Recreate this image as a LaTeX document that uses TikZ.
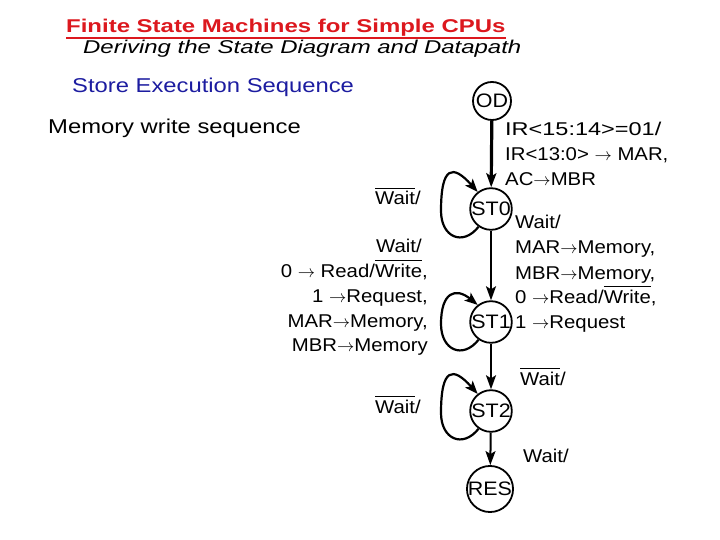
\documentclass[tikz,border=0pt]{standalone}
\usepackage{fontspec}
\setmainfont{Liberation Sans}[FakeStretch=1.1]
\newfontfamily\titlefont{Liberation Sans}[FakeStretch=1.295]
\newfontfamily\headfont{Liberation Sans}[FakeStretch=1.19]
\newfontfamily\widefont{Liberation Sans}[FakeStretch=1.27]
\usetikzlibrary{arrows.meta,calc}
\definecolor{titlered}{RGB}{220,24,30}
\definecolor{storeblue}{RGB}{28,28,160}
\newcommand{\ovl}[1]{\vbox{\hrule height 1.2pt \kern 2.2pt \hbox{#1}}}
\newcommand{\arr}{$\rightarrow$}
\begin{document}
\begin{tikzpicture}[x=1pt,y=1pt]
\tikzset{
 state/.style={circle,draw,line width=1.8pt,minimum size=38pt,inner sep=0pt,font=\fontsize{19.5}{19.5}\selectfont},
 lbl/.style={inner sep=0pt,font=\fontsize{18.5}{20}\selectfont},
 lw/.style={lbl,anchor=base west},
 le/.style={lbl,anchor=base east},
 trans/.style={line width=2pt,-{Stealth[length=14pt,width=10pt,inset=3pt]}},
 selfloop/.style={line width=2.2pt,-{Stealth[length=13pt,width=10pt,inset=3pt]}},
}
\useasboundingbox (0,0) rectangle (720,-540);
% headings
\node[anchor=base west,inner sep=0pt,text=titlered,font=\titlefont\bfseries\fontsize{18.5}{20}\selectfont] (title) at (66,-33) {Finite State Machines for Simple CPUs};
\draw[titlered,line width=2pt] ([yshift=-5pt]title.base west) -- ([yshift=-5pt]title.base east);
\node[anchor=base west,inner sep=0pt,font=\titlefont\itshape\fontsize{18.5}{20}\selectfont] (sub) at (83,-54) {Deriving the State Diagram and Datapath};
\node[anchor=base west,inner sep=0pt,text=storeblue,font=\headfont\fontsize{20}{22}\selectfont] (store) at (72,-93) {Store Execution Sequence};
\node[anchor=base west,inner sep=0pt,font=\headfont\fontsize{20}{22}\selectfont] (mws) at (48,-134) {Memory write sequence};
% states
\node[state] (od) at (492,-101) {OD};
\node[state] (st0) at (491,-209) {ST0};
\node[state] (st1) at (491,-322) {ST1};
\node[state] (st2) at (491,-411) {ST2};
\node[state] (res) at (490,-489) {RES};
% transitions
\draw[trans,line width=3.2pt] (od) -- (st0);
\draw[trans] (st0) -- (st1);
\draw[trans] (st1) -- (st2);
\draw[trans] (st2) -- (res);
% self loops
\draw[selfloop] (st0.235) .. controls +(-16,-20) and +(0,-26) .. ($(st0)+(-50,-2)$) .. controls +(0,45) and +(-25,28) .. (st0.128);
\draw[selfloop] (st1.235) .. controls +(-16,-20) and +(0,-26) .. ($(st1)+(-50,-2)$) .. controls +(0,32) and +(-22,18) .. (st1.128);
\draw[selfloop] (st2.235) .. controls +(-16,-20) and +(0,-26) .. ($(st2)+(-50,-2)$) .. controls +(0,45) and +(-25,28) .. (st2.128);
% labels OD->ST0
\node[lw,font=\widefont\fontsize{18.5}{20}\selectfont] (a1) at (505,-136) {IR<15:14>=01/};
\node[lw] (a2) at (505,-161) {IR<13:0> \arr\ MAR,};
\node[lw] (a3) at (505,-186) {AC\arr MBR};
% ST0 self loop
\node[le] (b1) at (421,-205) {\ovl{Wait}/};
% ST0->ST1
\node[lw] (c1) at (515,-229) {Wait/};
\node[lw] (c2) at (515,-254) {MAR\arr Memory,};
\node[lw] (c3) at (515,-279) {MBR\arr Memory,};
\node[lw] (c4) at (515,-303) {0 \arr Read/\ovl{Write},};
\node[lw] (c5) at (515,-328) {1 \arr Request};
% ST1 self loop
\node[le] (d1) at (422,-252) {Wait/};
\node[le] (d2) at (428,-277) {0 \arr\ Read/\ovl{Write},};
\node[le] (d3) at (428,-302) {1 \arr Request,};
\node[le] (d4) at (428,-327) {MAR\arr Memory,};
\node[le] (d5) at (428,-351) {MBR\arr Memory};
% ST1->ST2
\node[lw] (e1) at (520,-385) {\ovl{Wait}/};
% ST2 self loop
\node[le] (f1) at (421,-413) {\ovl{Wait}/};
% ST2->RES
\node[lw] (g1) at (523,-462) {Wait/};
\end{tikzpicture}
\end{document}
